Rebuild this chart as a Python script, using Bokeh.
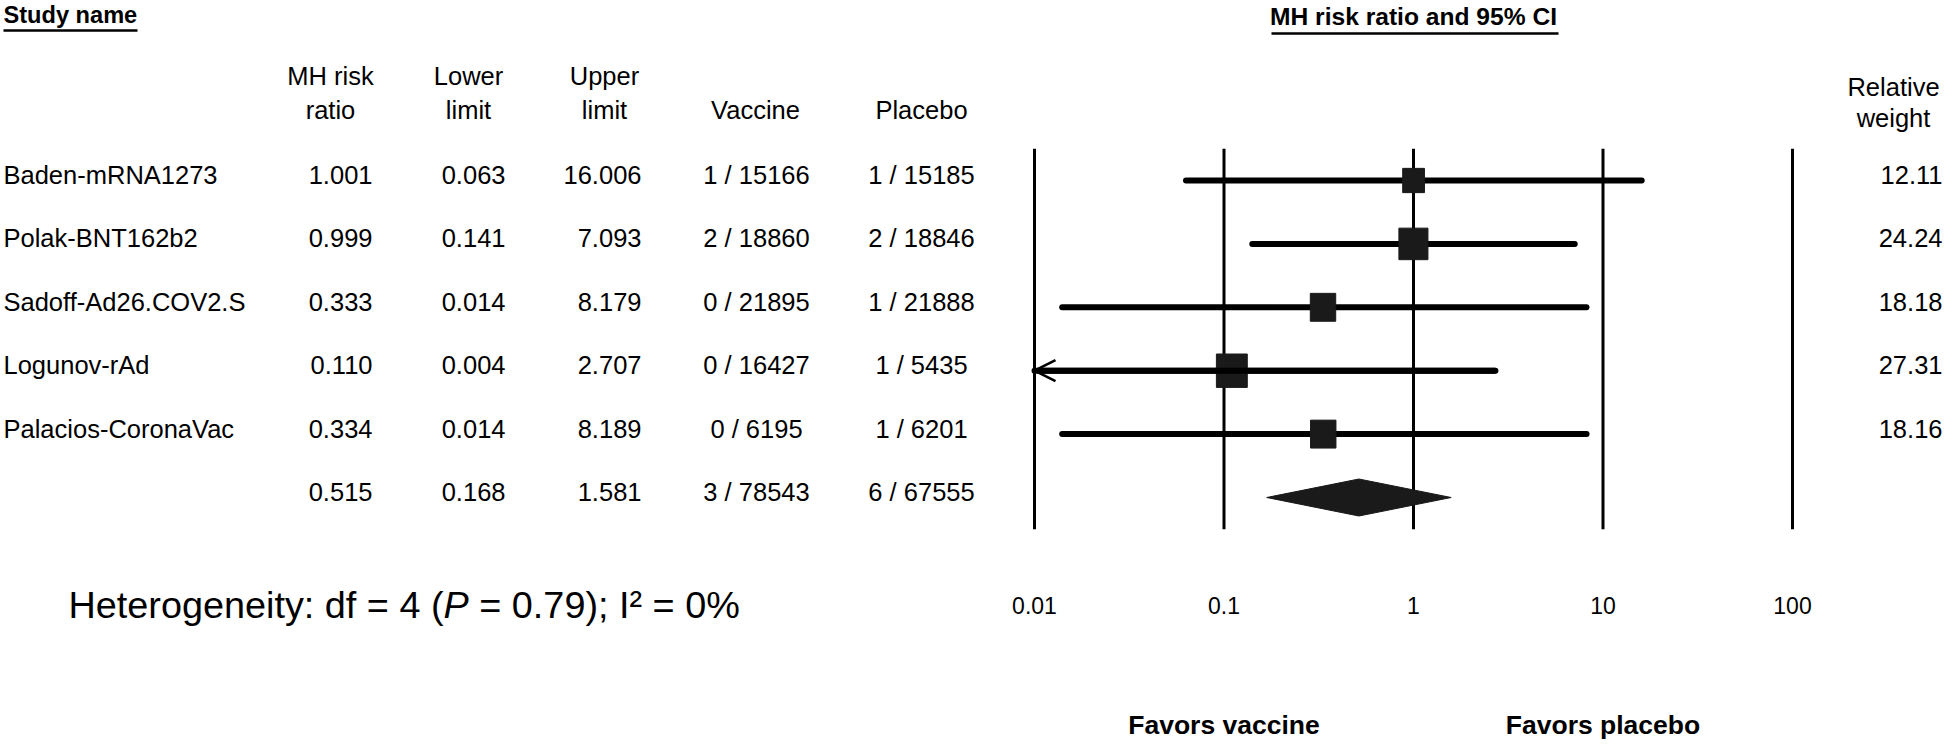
from bokeh.plotting import figure
from bokeh.models import Range1d, LogScale, Arrow, OpenHead
from bokeh.core.properties import value
from bokeh.embed import file_html
from bokeh.resources import INLINE

# ---------------- data ----------------
studies = ["Baden-mRNA1273", "Polak-BNT162b2", "Sadoff-Ad26.COV2.S",
           "Logunov-rAd", "Palacios-CoronaVac"]
risk_ratio = [1.001, 0.999, 0.333, 0.110, 0.334]
lower_limit = [0.063, 0.141, 0.014, 0.004, 0.014]
upper_limit = [16.006, 7.093, 8.179, 2.707, 8.189]
vaccine_events = ["1 / 15166", "2 / 18860", "0 / 21895", "0 / 16427", "0 / 6195"]
placebo_events = ["1 / 15185", "2 / 18846", "1 / 21888", "1 / 5435", "1 / 6201"]
relative_weight = [12.11, 24.24, 18.18, 27.31, 18.16]

pooled_rr = 0.515
pooled_lower = 0.168
pooled_upper = 1.581
pooled_vaccine = "3 / 78543"
pooled_placebo = "6 / 67555"

axis_ticks = [0.01, 0.1, 1, 10, 100]
tick_labels = ["0.01", "0.1", "1", "10", "100"]

# ---------------- layout ----------------
W, H = 1946, 749
ROW0, ROW_H = 180.0, 63.4          # pixel row of first study, row spacing
DEC, X_ONE = 189.5, 1413.0         # pixels per decade, pixel of ratio 1
FONT = "Liberation Sans"

y_top = -ROW0 / ROW_H
y_bot = y_top + H / ROW_H
lo_log = -X_ONE / DEC
hi_log = lo_log + W / DEC

p = figure(width=W, height=H, output_backend="svg", toolbar_location=None,
           x_range=Range1d(0, W), y_range=Range1d(y_bot, y_top),
           min_border=0, min_border_left=0, min_border_right=0,
           min_border_top=0, min_border_bottom=0)
p.extra_x_ranges = {"rr": Range1d(10 ** lo_log, 10 ** hi_log)}
p.extra_x_scales = {"rr": LogScale()}
p.extra_y_ranges = {"px": Range1d(H, 0)}
p.axis.visible = False
p.grid.visible = False
p.outline_line_color = None
p.background_fill_color = "white"
p.border_fill_color = "white"

rows = list(range(len(studies)))
summary_row = len(studies)
n_rows = len(studies) + 1
TEXT_DY = -5.5 / ROW_H


def txt(x, y, texts, size, align="left", style="normal",
        xr="default", yr="default"):
    p.text(x=x, y=y, text=texts, text_font=value(FONT),
           text_font_size=f"{size}px", text_align=align,
           text_baseline="alphabetic", text_font_style=style,
           text_color="black", x_range_name=xr, y_range_name=yr)


# ---------------- forest part ----------------
p.segment(x0=axis_ticks, y0=[-0.5] * len(axis_ticks), x1=axis_ticks,
          y1=[n_rows - 0.5] * len(axis_ticks), x_range_name="rr",
          line_color="black", line_width=3)

axis_min = axis_ticks[0]
ci_lo = [max(v, axis_min) for v in lower_limit]
p.segment(x0=ci_lo, y0=rows, x1=upper_limit, y1=rows, x_range_name="rr",
          line_color="black", line_width=6, line_cap="round")

for r, lo, hi in zip(rows, lower_limit, upper_limit):
    if lo < axis_min:
        p.add_layout(Arrow(end=OpenHead(size=21, line_width=2.5, line_color="black"),
                           x_start=hi, y_start=r, x_end=axis_min, y_end=r,
                           line_width=6, line_color="black",
                           x_range_name="rr"))

sq_w = [14.5 + 0.6 * w for w in relative_weight]
sq_h = [s + 2.5 for s in sq_w]
p.rect(x=risk_ratio, y=rows, width=sq_w, height=sq_h,
       width_units="screen", height_units="screen", x_range_name="rr",
       fill_color="#1a1a1a", line_color="#1a1a1a")

d = 18.5 / ROW_H
p.patch(x=[pooled_lower, pooled_rr, pooled_upper, pooled_rr],
        y=[summary_row, summary_row - d, summary_row, summary_row + d],
        x_range_name="rr", fill_color="#1a1a1a", line_color="#1a1a1a")

# ---------------- table text ----------------
ty = [r + TEXT_DY for r in rows]
ty_all = ty + [summary_row + TEXT_DY]
SZ = 25.5
txt([3] * len(studies), ty, studies, SZ)
txt([372] * n_rows, ty_all, [f"{v:.3f}" for v in risk_ratio + [pooled_rr]], SZ, "right")
txt([505] * n_rows, ty_all, [f"{v:.3f}" for v in lower_limit + [pooled_lower]], SZ, "right")
txt([641] * n_rows, ty_all, [f"{v:.3f}" for v in upper_limit + [pooled_upper]], SZ, "right")
txt([756] * n_rows, ty_all, vaccine_events + [pooled_vaccine], SZ, "center")
txt([921] * n_rows, ty_all, placebo_events + [pooled_placebo], SZ, "center")
txt([1942] * len(studies), ty, [f"{w:.2f}" for w in relative_weight], SZ, "right")

# headers
txt([3], [14], ["Study name"], 23.6, "left", "bold", yr="px")
p.segment(x0=[3], y0=[30], x1=[137], y1=[30], y_range_name="px",
          line_color="black", line_width=2.5)
txt([1], [16], ["MH risk ratio and 95% CI"], 24.6, "center", "bold",
    xr="rr", yr="px")
p.segment(x0=[1271], y0=[33], x1=[1558], y1=[33], y_range_name="px",
          line_color="black", line_width=2.5)

hx = [330, 330, 468, 468, 604, 604, 755, 921, 1893, 1893]
hy = [75, 109, 75, 109, 75, 109, 109, 109, 86, 117]
ht = ["MH risk", "ratio", "Lower", "limit", "Upper", "limit", "Vaccine",
      "Placebo", "Relative", "weight"]
txt(hx, hy, ht, SZ, "center", yr="px")

# axis tick labels
txt(axis_ticks, [605] * len(axis_ticks), tick_labels, 23, "center", xr="rr", yr="px")

# heterogeneity (SVG drops leading spaces, so pieces are placed explicitly)
HF = 37.8
HX = 68
HY = 604
txt([HX], [HY], ["Heterogeneity: df = 4 ("], HF, yr="px")
txt([HX + 9.922 * HF], [HY], ["P"], HF, style="italic", yr="px")
txt([HX + (10.589 + 0.278) * HF], [HY], ["= 0.79); I\u00b2 = 0%"], HF, yr="px")

# favours
txt([0.1, 10], [724, 724], ["Favors vaccine", "Favors placebo"], 26.5, "center",
    "bold", xr="rr", yr="px")

open("out.html", "w").write(file_html(p, INLINE))
